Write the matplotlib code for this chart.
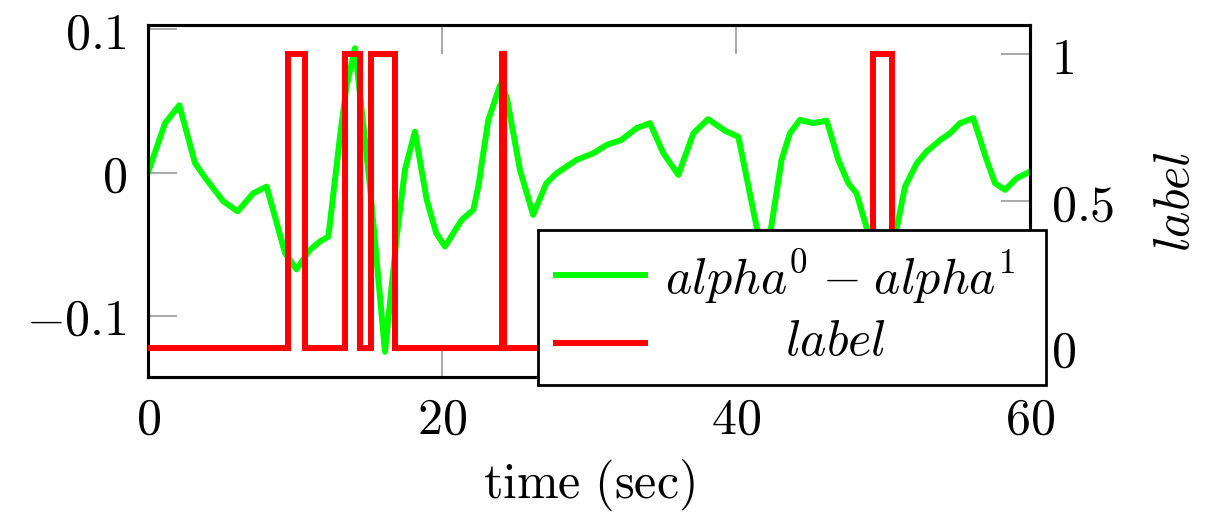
import matplotlib
matplotlib.use("Agg")
import matplotlib.pyplot as plt
from matplotlib.lines import Line2D
from matplotlib.patches import Rectangle
from matplotlib.ticker import FixedLocator, FuncFormatter

plt.rcParams["mathtext.fontset"] = "cm"
plt.rcParams["font.family"] = ["DejaVu Serif"]

# alpha^0 - alpha^1 over time
alpha_time = [0.0, 1.16, 2.13, 3.2, 3.99, 5.12, 6.1, 7.16, 8.07, 9.32, 10.1, 11.0,
              11.7, 12.27, 13.06, 13.5, 14.08, 15.1, 16.12, 16.92, 17.48, 18.16,
              18.96, 19.6, 20.2, 21.34, 22.13, 22.47, 23.15, 23.95, 24.4, 25.3,
              26.2, 27.1, 27.8, 29.16, 30.3, 31.2, 32.2, 33.24, 34.15, 35.06,
              36.08, 37.1, 38.1, 39.3, 40.16, 41.4, 41.9, 42.4, 43.1, 43.67,
              44.35, 45.26, 46.17, 46.96, 47.64, 48.2, 48.9, 49.9, 50.93, 51.5,
              52.3, 52.97, 53.9, 54.56, 55.24, 56.14, 57.05, 57.62, 58.3, 59.1,
              60.0]
alpha_diff = [0.0, 0.0345, 0.047, 0.0066, -0.005, -0.020, -0.027, -0.0144,
              -0.0098, -0.056, -0.0675, -0.054, -0.048, -0.0447, 0.025, 0.06,
              0.0868, -0.0098, -0.125, -0.0447, 0.002, 0.0286, -0.019, -0.042,
              -0.0516, -0.033, -0.026, -0.0098, 0.0368, 0.061, 0.053, 0.002,
              -0.0295, -0.0074, -0.0004, 0.0089, 0.0135, 0.0193, 0.0228, 0.031,
              0.0345, 0.0135, -0.0016, 0.0275, 0.0373, 0.029, 0.025, -0.0377,
              -0.062, -0.0377, 0.0089, 0.0275, 0.0368, 0.0345, 0.0363, 0.0089,
              -0.0074, -0.0144, -0.039, -0.08, -0.039, -0.0098, 0.0066, 0.0147,
              0.0228, 0.0275, 0.0345, 0.038, 0.0089, -0.0074, -0.012, -0.0039,
              0.0007]

# binary label, held constant until the next change
label_time = [0.0, 9.55, 10.7, 13.4, 14.45, 15.2, 16.8, 24.1, 24.25, 49.3, 50.6, 60.0]
label_value = [0, 1, 0, 1, 0, 1, 0, 1, 0, 1, 0, 0]

x_ticks = [0, 20, 40, 60]
left_ticks = [-0.1, 0, 0.1]
right_ticks = [0, 0.5, 1]

W, H = 1217, 513
fig = plt.figure(figsize=(W / 100, H / 100), dpi=100)
ax = fig.add_axes([148 / W, 1 - 377 / H, (1030 - 148) / W, (377 - 25) / H])
ax2 = ax.twinx()

green = (0.0, 1.0, 0.0)
red = (1.0, 0.0, 0.0)

ax.plot(alpha_time, alpha_diff, color=green, lw=4.3, solid_joinstyle="round",
        solid_capstyle="round", zorder=3)
ax2.plot(label_time, label_value, color=red, lw=4.3, drawstyle="steps-post",
         solid_joinstyle="miter", zorder=3)

ax.set_xlim(0, 60)
ax.set_ylim(-0.1426, 0.103)
ax2.set_ylim(-0.1, 1.1)


def math_fmt(v, _pos):
    s = f"{v:g}"
    if s == "-0":
        s = "0"
    return "$" + s + "$"


fs = 36
ax.xaxis.set_major_locator(FixedLocator(x_ticks))
ax.yaxis.set_major_locator(FixedLocator(left_ticks))
ax2.yaxis.set_major_locator(FixedLocator(right_ticks))
for a in (ax.xaxis, ax.yaxis, ax2.yaxis):
    a.set_major_formatter(FuncFormatter(math_fmt))

tick_col = "0.6"
ax.tick_params(axis="x", direction="in", length=21, width=1.2, color=tick_col,
               labelsize=fs, top=True, bottom=True, pad=13)
ax.tick_params(axis="y", direction="in", length=21, width=1.2, color=tick_col,
               labelsize=fs, left=True, right=False, pad=15)
ax2.tick_params(axis="y", direction="in", length=21, width=1.2, color=tick_col,
                labelsize=fs, left=False, right=True, pad=15)

for a in (ax, ax2):
    for sp in a.spines.values():
        sp.set_linewidth(2.2)
        sp.set_color("black")

ax.set_xlabel(r"$\mathrm{time\ (sec)}$", fontsize=fs, labelpad=9)
ax2.set_ylabel(r"$label$", fontsize=fs, labelpad=26)

# legend box
lx0, lx1 = 538 / W, 1046 / W
ly0, ly1 = 1 - 385 / H, 1 - 230 / H
fig.add_artist(Rectangle((lx0, ly0), lx1 - lx0, ly1 - ly0, transform=fig.transFigure,
                         facecolor="white", edgecolor="black", lw=2.0, zorder=10))
fig.add_artist(Line2D([556 / W, 645 / W], [1 - 275 / H, 1 - 275 / H],
                      transform=fig.transFigure, color=green, lw=4.3, zorder=11))
fig.add_artist(Line2D([556 / W, 645 / W], [1 - 343 / H, 1 - 343 / H],
                      transform=fig.transFigure, color=red, lw=4.3, zorder=11))
fig.text(840 / W, 1 - 293 / H, r"$alpha^0\;{-}\;alpha^1$", fontsize=fs, ha="center",
         va="baseline", zorder=12)
fig.text(836 / W, 1 - 355 / H, r"$label$", fontsize=fs, ha="center",
         va="baseline", zorder=12)

fig.savefig("out.png", dpi=100)
